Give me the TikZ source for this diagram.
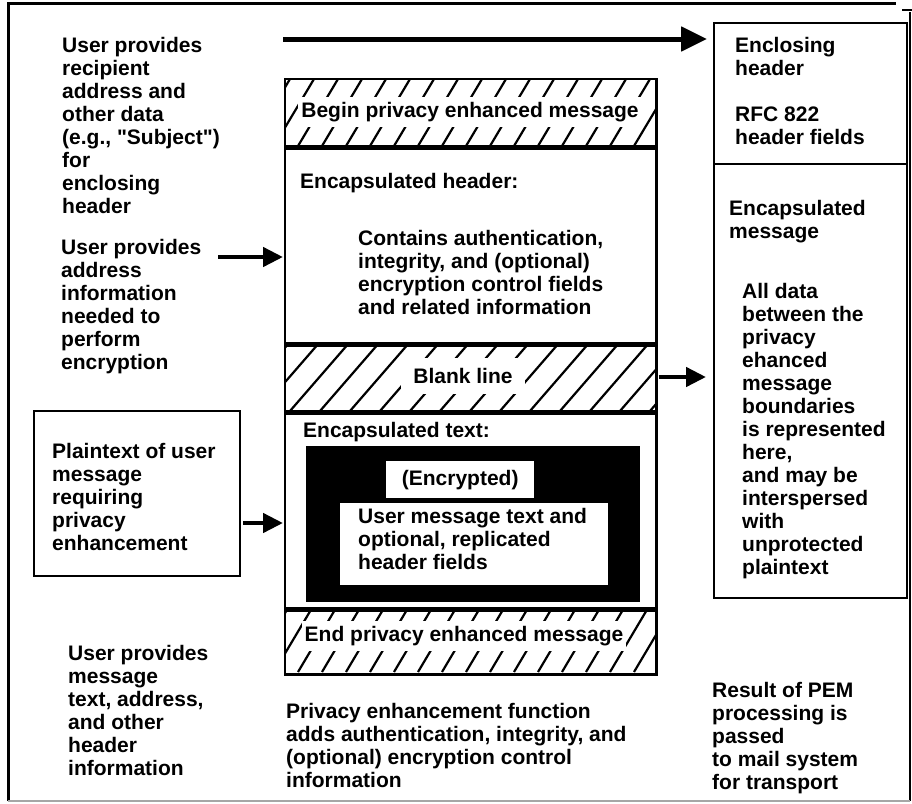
\documentclass[tikz,border=0pt]{standalone}
\usepackage{fontspec}
\newfontfamily\pemfont{Liberation Sans}
\usetikzlibrary{arrows.meta}

\begin{document}
\begin{tikzpicture}[x=1pt,y=-1pt,
  lbl/.style={font=\pemfont\bfseries\fontsize{21}{23}\selectfont, align=left, inner sep=0pt, anchor=north west},
  clbl/.style={font=\pemfont\bfseries\fontsize{21}{23}\selectfont, inner sep=0pt},
  sect/.style={line width=2.6pt, anchor=north west, inner sep=0pt, minimum width=369pt},
  box/.style={draw, line width=2.4pt, anchor=north west, inner sep=0pt},
  hatchline/.style={line width=2.2pt},
  fatarrow/.style={line width=5pt, -{Triangle[length=26pt,width=24pt]}},
  thinarrow/.style={line width=4.5pt, -{Triangle[length=20pt,width=19pt]}},
]
\useasboundingbox (0,0) rectangle (912,803);

% outer frame
\draw[line width=3pt] (8,801) -- (8,3) -- (896,3);
\draw[line width=1.5pt] (902,10) -- (912,10);
\draw[line width=1.2pt] (910,12) -- (910,801);
\draw[line width=1.2pt, black!35] (8,801) -- (910,801);

% central column: the privacy enhanced message
\path (285,79) node[sect, minimum height=67pt] (begin) {};
\path (285,146) node[sect, minimum height=197pt] (hdr) {};
\path (285,343) node[sect, minimum height=68pt] (blank) {};
\path (285,411) node[sect, minimum height=197pt] (enctext) {};
\path (285,608) node[sect, minimum height=64pt] (endmsg) {};

% hatched boundary lines
\begin{scope}
  \clip (begin.north west) rectangle (begin.south east);
  \foreach \x in {250,274,...,680} \draw[hatchline] (\x,146) -- ++(40,-67);
\end{scope}
\begin{scope}
  \clip (blank.north west) rectangle (blank.south east);
  \foreach \x in {230,260,...,680} \draw[hatchline] (\x,411) -- ++(59,-68);
\end{scope}
\begin{scope}
  \clip (endmsg.north west) rectangle (endmsg.south east);
  \foreach \x in {250,274,...,680} \draw[hatchline] (\x,672) -- ++(38,-64);
\end{scope}

\node[clbl, fill=white, inner xsep=3pt, inner ysep=5pt] (begintxt) at (470,112) {Begin privacy enhanced message};
\node[clbl, fill=white, inner xsep=12pt, inner ysep=10pt] (blanktxt) at (463,376) {Blank line};
\node[clbl, fill=white, inner xsep=3pt, inner ysep=5pt] (endtxt) at (464,636) {End privacy enhanced message};

% section frames
\foreach \s in {begin,hdr,blank,enctext,endmsg}
  \draw[line width=2.6pt] (\s.north west) rectangle (\s.south east);

% encapsulated header contents
\node[lbl] (hdrtitle) at (300,173) {Encapsulated header:};
\node[lbl] (hdrbody) at (358,230) {Contains authentication,\\integrity, and (optional)\\encryption control fields\\and related information};

% encapsulated text contents
\node[lbl] (texttitle) at (303,422) {Encapsulated text:};
\node[fill=black, anchor=north west, inner sep=0pt, minimum width=334pt, minimum height=156pt] (cipher) at (306,446) {};
\node[fill=white, anchor=north west, inner sep=0pt, minimum width=148pt, minimum height=37pt, font=\pemfont\bfseries\fontsize{21}{23}\selectfont] (encr) at (386,461) {(Encrypted)};
\node[fill=white, anchor=north west, inner sep=0pt, minimum width=268pt, minimum height=82pt] (usermsg) at (340,503) {};
\node[lbl] (usermsgtxt) at (358,508) {User message text and\\optional, replicated\\header fields};

% right column: result of PEM processing
\node[box, minimum width=193pt, minimum height=141pt] (enclhdr) at (713,22) {};
\node[box, minimum width=193pt, minimum height=434pt] (encmsg) at (713,163) {};
\node[lbl] at (735,37) {Enclosing\\header};
\node[lbl] at (735,107) {RFC 822\\header fields};
\node[lbl] at (729,200) {Encapsulated\\message};
\node[lbl] at (742,283) {All data\\between the\\privacy\\ehanced\\message\\boundaries\\is represented\\here,\\and may be\\interspersed\\with\\unprotected\\plaintext};

% left column: user input
\node[lbl] (userhdr) at (62,37) {User provides\\recipient\\address and\\other data\\(e.g., "Subject")\\for\\enclosing\\header};
\node[lbl] (useraddr) at (61,239) {User provides\\address\\information\\needed to\\perform\\encryption};
\node[box, minimum width=206pt, minimum height=165pt] (plain) at (33,410) {};
\node[lbl] at (52,443) {Plaintext of user\\message\\requiring\\privacy\\enhancement};

% captions along the bottom
\node[lbl] at (68,645) {User provides\\message\\text, address,\\and other\\header\\information};
\node[lbl] at (286,703) {Privacy enhancement function\\adds authentication, integrity, and\\(optional) encryption control\\information};
\node[lbl] at (712,682) {Result of PEM\\processing is\\passed\\to mail system\\for transport};

% arrows
\coordinate (toparrow) at (283,39);
\draw[fatarrow, shorten >=6pt] (toparrow) -- (toparrow -| enclhdr.west);
\coordinate (addrarrow) at (218,257);
\draw[thinarrow, shorten >=2pt] (addrarrow) -- (addrarrow -| hdr.west);
\draw[thinarrow, shorten <=2pt, shorten >=2pt] (plain.east |- 0,523) -- (enctext.west |- 0,523);
\draw[thinarrow, shorten <=2pt, shorten >=7pt] (blank.east |- 0,377) -- (encmsg.west |- 0,377);
\end{tikzpicture}
\end{document}
